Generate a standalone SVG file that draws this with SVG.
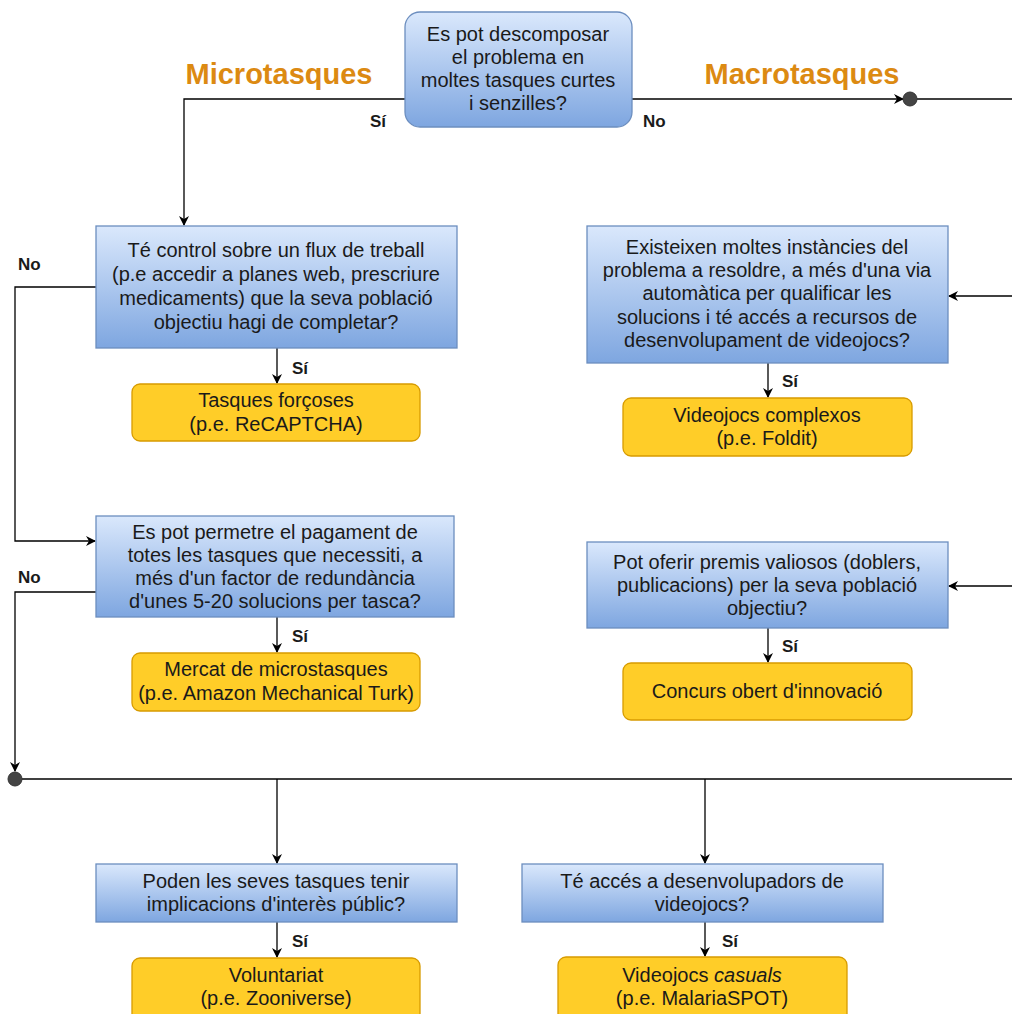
<svg xmlns="http://www.w3.org/2000/svg" width="1012" height="1014" viewBox="0 0 1012 1014">
<defs>
<linearGradient id="blue" x1="0" y1="0" x2="0" y2="1">
<stop offset="0" stop-color="#dae8fc"/>
<stop offset="1" stop-color="#7ea6e0"/>
</linearGradient>
<marker id="arr" viewBox="0 0 10 10" refX="9" refY="5" markerWidth="10" markerHeight="10" markerUnits="userSpaceOnUse" orient="auto">
<path d="M0,0 L10,5 L0,10 L3,5 Z" fill="#000"/>
</marker>
</defs>
<style>
.q{fill:url(#blue);stroke:#6c8ebf;stroke-width:1.3}
.a{fill:#ffcd28;stroke:#d79b00;stroke-width:1.3}
.t{font-family:"Liberation Sans",Arial,sans-serif;font-size:20px;fill:#1a1a1a;text-anchor:middle}
.l{font-family:"Liberation Sans",Arial,sans-serif;font-size:17px;font-weight:bold;fill:#1a1a1a}
.h{font-family:"Liberation Sans",Arial,sans-serif;font-size:29px;font-weight:bold;fill:#dc8a12;text-anchor:middle}
.c{fill:none;stroke:#000;stroke-width:1.3}
.ca{fill:none;stroke:#000;stroke-width:1.3;marker-end:url(#arr)}
.dot{fill:#444;stroke:#333;stroke-width:1}
</style>
<rect width="1012" height="1014" fill="#fff"/>
<g id="connectors">
<path class="ca" d="M405,99 H184 V225"/>
<path class="ca" d="M632,99 H903"/>
<path class="c" d="M917,99 H1012"/>
<path class="ca" d="M1012,296 H949"/>
<path class="ca" d="M1012,586 H949"/>
<path class="ca" d="M96,287 H15 V541 H95"/>
<path class="ca" d="M277,348 V383"/>
<path class="ca" d="M96,592 H15 V771"/>
<path class="ca" d="M277,617 V652"/>
<path class="c" d="M22,779 H1012"/>
<path class="ca" d="M277,779 V863"/>
<path class="ca" d="M705,779 V863"/>
<path class="ca" d="M768,363 V397"/>
<path class="ca" d="M768,628 V662"/>
<path class="ca" d="M277,922 V957"/>
<path class="ca" d="M705,922 V956"/>
<circle class="dot" cx="910" cy="99" r="7"/>
<circle class="dot" cx="15" cy="779" r="7"/>
<text class="l" x="370" y="127">Sí</text>
<text class="l" x="643" y="127">No</text>
<text class="l" x="18" y="270">No</text>
<text class="l" x="18" y="583">No</text>
<text class="l" x="292" y="374">Sí</text>
<text class="l" x="292" y="642">Sí</text>
<text class="l" x="782" y="387">Sí</text>
<text class="l" x="782" y="652">Sí</text>
<text class="l" x="292" y="947">Sí</text>
<text class="l" x="722" y="947">Sí</text>
</g>
<g id="labels">
<text class="h" x="279" y="84">Microtasques</text>
<text class="h" x="802" y="84">Macrotasques</text>
</g>
<g id="n-top">
<rect class="q" x="405" y="12" width="227" height="115" rx="15"/>
<text class="t" x="518" y="41">Es pot descomposar</text>
<text class="t" x="518" y="64">el problema en</text>
<text class="t" x="518" y="87">moltes tasques curtes</text>
<text class="t" x="518" y="110">i senzilles?</text>
</g>
<g id="n-flux">
<rect class="q" x="96" y="226" width="361" height="122"/>
<text class="t" x="276" y="257">Té control sobre un flux de treball</text>
<text class="t" x="276" y="281">(p.e accedir a planes web, prescriure</text>
<text class="t" x="276" y="305">medicaments) que la seva població</text>
<text class="t" x="276" y="329">objectiu hagi de completar?</text>
</g>
<g id="n-forcoses">
<rect class="a" x="132" y="384" width="288" height="57" rx="8"/>
<text class="t" x="276" y="407">Tasques forçoses</text>
<text class="t" x="276" y="431">(p.e. ReCAPTCHA)</text>
</g>
<g id="n-pagament">
<rect class="q" x="96" y="516" width="358" height="101"/>
<text class="t" x="275" y="539">Es pot permetre el pagament de</text>
<text class="t" x="275" y="562">totes les tasques que necessiti, a</text>
<text class="t" x="275" y="585">més d'un factor de redundància</text>
<text class="t" x="275" y="608">d'unes 5-20 solucions per tasca?</text>
</g>
<g id="n-mercat">
<rect class="a" x="132" y="653" width="288" height="58" rx="8"/>
<text class="t" x="276" y="676">Mercat de microstasques</text>
<text class="t" x="276" y="700">(p.e. Amazon Mechanical Turk)</text>
</g>
<g id="n-instancies">
<rect class="q" x="587" y="226" width="361" height="137"/>
<text class="t" x="767" y="254">Existeixen moltes instàncies del</text>
<text class="t" x="767" y="277">problema a resoldre, a més d'una via</text>
<text class="t" x="767" y="300">automàtica per qualificar les</text>
<text class="t" x="767" y="324">solucions i té accés a recursos de</text>
<text class="t" x="767" y="347">desenvolupament de videojocs?</text>
</g>
<g id="n-complexos">
<rect class="a" x="623" y="398" width="289" height="58" rx="8"/>
<text class="t" x="767" y="422">Videojocs complexos</text>
<text class="t" x="767" y="445">(p.e. Foldit)</text>
</g>
<g id="n-premis">
<rect class="q" x="587" y="542" width="361" height="86"/>
<text class="t" x="767" y="569">Pot oferir premis valiosos (doblers,</text>
<text class="t" x="767" y="592">publicacions) per la seva població</text>
<text class="t" x="767" y="615">objectiu?</text>
</g>
<g id="n-concurs">
<rect class="a" x="623" y="663" width="289" height="57" rx="8"/>
<text class="t" x="767" y="698">Concurs obert d'innovació</text>
</g>
<g id="n-public">
<rect class="q" x="96" y="864" width="361" height="58"/>
<text class="t" x="276" y="888">Poden les seves tasques tenir</text>
<text class="t" x="276" y="911">implicacions d'interès públic?</text>
</g>
<g id="n-voluntariat">
<rect class="a" x="132" y="958" width="288" height="64" rx="8"/>
<text class="t" x="276" y="982">Voluntariat</text>
<text class="t" x="276" y="1005">(p.e. Zooniverse)</text>
</g>
<g id="n-desenvolupadors">
<rect class="q" x="522" y="864" width="361" height="58"/>
<text class="t" x="702" y="888">Té accés a desenvolupadors de</text>
<text class="t" x="702" y="911">videojocs?</text>
</g>
<g id="n-casuals">
<rect class="a" x="558" y="957" width="289" height="65" rx="8"/>
<text class="t" x="702" y="982">Videojocs <tspan font-style="italic">casuals</tspan></text>
<text class="t" x="702" y="1005">(p.e. MalariaSPOT)</text>
</g>
</svg>
